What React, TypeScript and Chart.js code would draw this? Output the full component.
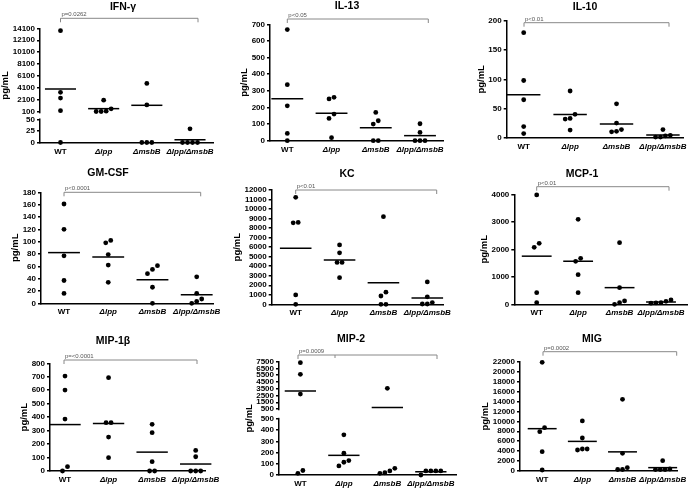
import React, { useEffect, useRef } from 'react';
import { Chart, registerables } from 'chart.js';
Chart.register(...registerables);

const FONT = '"Liberation Sans", Arial, Helvetica, sans-serif';

const groups = ['WT', 'Δlpp', 'ΔmsbB', 'Δlpp/ΔmsbB'];

// IFN-γ
const ifnWT = [13700, 3400, 2450, 350, 0];
const ifnLpp = [2100, 650, 250, 200, 200];
const ifnMsbB = [4900, 1300, 0, 0, 0];
const ifnDbl = [30, 0, 0, 0, 0];
const ifnLowTicks = [0, 25, 50];
const ifnUpTicks = [100, 2100, 4100, 6100, 8100, 10100, 12100, 14100];
// IL-13
const il13WT = [668, 337, 210, 44, 0];
const il13Lpp = [261, 251, 160, 134, 18];
const il13MsbB = [170, 120, 100, 0, 0];
const il13Dbl = [102, 50, 0, 0, 0];
// IL-10
const il10WT = [180, 98, 65, 19, 7];
const il10Lpp = [80, 40, 33, 32, 13];
const il10MsbB = [58, 25, 14, 11, 10];
const il10Dbl = [14, 4, 1, 1, 3];
// GM-CSF
const gmWT = [161, 120, 77, 37, 16];
const gmLpp = [102, 98, 79, 62, 34];
const gmMsbB = [61, 55, 48, 26, 0];
const gmDbl = [43, 16, 7, 3, 0];
// KC
const kcWT = [11230, 8600, 8550, 980, 0];
const kcLpp = [6230, 5400, 4400, 4400, 2800];
const kcMsbB = [9200, 1270, 870, 0, 0];
const kcDbl = [2350, 780, 180, 30, 30];
// MCP-1
const mcpWT = [3976, 2218, 2073, 424, 60];
const mcpLpp = [3090, 1673, 1564, 1079, 424];
const mcpMsbB = [2242, 606, 121, 60, 0];
const mcpDbl = [158, 110, 60, 50, 40];
// MIP-1β
const mip1WT = [705, 601, 386, 32, 0];
const mip1Lpp = [693, 359, 359, 252, 99];
const mip1MsbB = [347, 285, 69, 0, 0];
const mip1Dbl = [153, 106, 0, 0, 0];
// MIP-2
const mip2WT = [7350, 5630, 2720, 40, 15];
const mip2Lpp = [359, 195, 129, 114, 81];
const mip2MsbB = [3560, 60, 36, 20, 15];
const mip2Dbl = [36, 36, 36, 36, 0];
const mip2LowTicks = [0, 100, 200, 300, 400, 500];
const mip2UpTicks = [500, 1500, 2500, 3500, 4500, 5500, 6500, 7500];
// MIG
const migWT = [21870, 8720, 7920, 3890, 200];
const migLpp = [10070, 6640, 4430, 4230, 4430];
const migMsbB = [14430, 3560, 670, 300, 300];
const migDbl = [2080, 400, 300, 300, 300];

type Brk = { low: number[]; up: number[]; lowFrac: number; gapFrac: number };
type Panel = {
  title: string;
  pText: string;
  series: number[][];
  yMax?: number;
  yStep?: number;
  brk?: Brk;
  box: number[];
  plot: number[];
  cats: number[];
  titlePos: number[];
  bracket: number[];
};

const panels: Panel[] = [
  { title: 'IFN-γ', pText: 'p=0.0262', series: [ifnWT, ifnLpp, ifnMsbB, ifnDbl],
    brk: { low: ifnLowTicks, up: ifnUpTicks, lowFrac: 0.2, gapFrac: 0.066 },
    box: [0, 0, 230, 160], plot: [40, 28.3, 213, 142.5], cats: [60.5, 190], titlePos: [123, 7.5], bracket: [60.5, 198, 18.3] },
  { title: 'IL-13', pText: 'p<0.05', series: [il13WT, il13Lpp, il13MsbB, il13Dbl], yMax: 700, yStep: 100,
    box: [230, 0, 230, 160], plot: [270, 24.3, 443, 140.7], cats: [287.3, 420], titlePos: [347, 6.5], bracket: [287.3, 428.3, 19] },
  { title: 'IL-10', pText: 'p<0.01', series: [il10WT, il10Lpp, il10MsbB, il10Dbl], yMax: 200, yStep: 50,
    box: [460, 0, 231, 160], plot: [506.7, 21, 687, 137.7], cats: [524, 665.7], titlePos: [585, 7.5], bracket: [524, 669, 22.7] },
  { title: 'GM-CSF', pText: 'p<0.0001', series: [gmWT, gmLpp, gmMsbB, gmDbl], yMax: 180, yStep: 20,
    box: [0, 160, 230, 165], plot: [41, 192.3, 213, 303.3], cats: [64, 196.7], titlePos: [108, 173], bracket: [64, 200.7, 192.3] },
  { title: 'KC', pText: 'p<0.01', series: [kcWT, kcLpp, kcMsbB, kcDbl], yMax: 12000, yStep: 1000,
    box: [230, 160, 230, 165], plot: [271.7, 190, 443, 304.3], cats: [295.7, 427.3], titlePos: [347, 174], bracket: [295.7, 436.7, 190] },
  { title: 'MCP-1', pText: 'p<0.01', series: [mcpWT, mcpLpp, mcpMsbB, mcpDbl], yMax: 4000, yStep: 1000,
    box: [460, 160, 231, 165], plot: [514.3, 194.3, 687, 304.3], cats: [536.7, 661], titlePos: [582, 174], bracket: [536.7, 669, 186.7] },
  { title: 'MIP-1β', pText: 'p=<0.0001', series: [mip1WT, mip1Lpp, mip1MsbB, mip1Dbl], yMax: 800, yStep: 100,
    box: [0, 325, 230, 166], plot: [50, 363.3, 205, 471], cats: [65, 195.7], titlePos: [113, 341], bracket: [64, 197, 360] },
  { title: 'MIP-2', pText: 'p=0.0009', series: [mip2WT, mip2Lpp, mip2MsbB, mip2Dbl],
    brk: { low: mip2LowTicks, up: mip2UpTicks, lowFrac: 0.494, gapFrac: 0.088 },
    box: [230, 325, 230, 166], plot: [279, 361.7, 457, 475], cats: [300.5, 431.7], titlePos: [351, 339], bracket: [298, 437, 355, 335] },
  { title: 'MIG', pText: 'p=0.0002', series: [migWT, migLpp, migMsbB, migDbl], yMax: 22000, yStep: 2000,
    box: [460, 325, 231, 166], plot: [520, 361.7, 683, 471], cats: [543, 668], titlePos: [592, 339], bracket: [543, 676.7, 351.7] },
];

function frac(p: Panel, v: number): number {
  if (!p.brk) return v / (p.yMax as number);
  const { low, up, lowFrac, gapFrac } = p.brk;
  const lowMax = low[low.length - 1];
  const upMin = up[0];
  const upMax = up[up.length - 1];
  if (v <= lowMax) return (v / lowMax) * lowFrac;
  if (v < upMin) return lowFrac + ((v - lowMax) / (upMin - lowMax)) * gapFrac;
  return lowFrac + gapFrac + ((v - upMin) / (upMax - upMin)) * (1 - lowFrac - gapFrac);
}

const mean = (a: number[]) => a.reduce((s, v) => s + v, 0) / a.length;

// simple symmetric spreading of points that would overlap vertically
function jitter(vals: number[], toPx: (v: number) => number, sp: number): number[] {
  const SPACING = 5;
  const THRESH = 4.5;
  const idx = vals.map((_, i) => i).sort((a, b) => vals[a] - vals[b]);
  const offs = new Array(vals.length).fill(0);
  let cluster: number[] = [idx[0]];
  const flush = () => {
    const n = cluster.length;
    cluster.forEach((k, j) => { offs[k] = ((j - (n - 1) / 2) * SPACING) / sp; });
  };
  for (let t = 1; t < idx.length; t++) {
    const k = idx[t];
    const prev = cluster[cluster.length - 1];
    if (Math.abs(toPx(vals[k]) - toPx(vals[prev])) < THRESH) cluster.push(k);
    else { flush(); cluster = [k]; }
  }
  flush();
  return offs;
}

function PanelChart({ p }: { p: Panel }) {
  const ref = useRef<HTMLCanvasElement>(null);
  const [bx, by, bw, bh] = p.box;
  useEffect(() => {
    const [pl, pt, pr, pb] = p.plot;
    const sp = (p.cats[1] - p.cats[0]) / 3;
    const xMin = 1 - (p.cats[0] - pl) / sp;
    const xMax = 4 + (pr - p.cats[1]) / sp;
    const plotH = pb - pt;
    const yv = (v: number) => (p.brk ? frac(p, v) : v);
    const datasets: any[] = [];
    p.series.forEach((vals, g) => {
      const offs = jitter(vals, (v) => frac(p, v) * plotH, sp);
      datasets.push({
        type: 'scatter',
        data: vals.map((v, i) => ({ x: g + 1 + offs[i], y: yv(v) })),
        pointRadius: 2.4,
        pointBackgroundColor: '#000',
        pointBorderWidth: 0,
        clip: false,
      });
      const m = mean(vals);
      datasets.push({
        type: 'line',
        data: [{ x: g + 1 - 0.36, y: yv(m) }, { x: g + 1 + 0.36, y: yv(m) }],
        borderColor: '#000',
        borderWidth: 1.5,
        pointRadius: 0,
        clip: false,
      });
    });
    const brkLabels = p.brk ? [...p.brk.low, ...p.brk.up].map(String) : [];
    const deco = {
      id: 'deco',
      afterDraw(chart: any) {
        const ctx = chart.ctx;
        const a = chart.chartArea;
        const ys = chart.scales.y;
        ctx.save();
        if (p.brk) {
          const yl = ys.getPixelForValue(p.brk.lowFrac);
          const yu = ys.getPixelForValue(p.brk.lowFrac + p.brk.gapFrac);
          ctx.fillStyle = '#fff';
          ctx.fillRect(a.left - 1.6, yu + 1.2, 3.2, yl - yu - 2.4);
        }
        ctx.fillStyle = '#000';
        ctx.textAlign = 'center';
        ctx.textBaseline = 'middle';
        ctx.font = `bold 10.5px ${FONT}`;
        ctx.fillText(p.title, p.titlePos[0] - bx, p.titlePos[1] - by);
        const [x1, x2, yb, xm] = p.bracket;
        ctx.strokeStyle = '#888';
        ctx.lineWidth = 1;
        ctx.beginPath();
        ctx.moveTo(x1 - bx, yb - by + 4);
        ctx.lineTo(x1 - bx, yb - by);
        ctx.lineTo(x2 - bx, yb - by);
        ctx.lineTo(x2 - bx, yb - by + 4);
        if (xm) { ctx.moveTo(xm - bx, yb - by); ctx.lineTo(xm - bx, yb - by + 3); }
        ctx.stroke();
        ctx.fillStyle = '#555';
        ctx.font = `6px ${FONT}`;
        ctx.textAlign = 'left';
        ctx.textBaseline = 'alphabetic';
        ctx.fillText(p.pText, x1 - bx + 1, yb - by - 2);
        ctx.font = `bold 8px ${FONT}`;
        let maxW = 0;
        ys.ticks.forEach((t: any) => { maxW = Math.max(maxW, ctx.measureText(String(t.label)).width); });
        const tx = a.left - 5 - maxW - 7;
        ctx.fillStyle = '#000';
        ctx.font = `bold 9.5px ${FONT}`;
        ctx.translate(tx, (a.top + a.bottom) / 2);
        ctx.rotate(-Math.PI / 2);
        ctx.textAlign = 'center';
        ctx.textBaseline = 'middle';
        ctx.fillText('pg/mL', 0, 0);
        ctx.restore();
      },
    };
    const yScale: any = {
      type: 'linear',
      min: 0,
      max: p.brk ? 1 : p.yMax,
      ticks: {
        autoSkip: false,
        padding: 2,
        color: '#000',
        font: { family: FONT, size: 8, weight: 'bold' },
        callback: (val: any, i: number) => (p.brk ? brkLabels[i] : String(val)),
      },
      grid: { display: true, drawOnChartArea: false, drawTicks: true, tickLength: 3, color: '#000', lineWidth: 1.5 },
      border: { display: true, color: '#000', width: 1.5 },
      afterFit: (s: any) => { s.width = pl - bx; },
    };
    if (p.brk) {
      yScale.afterBuildTicks = (s: any) => {
        const b = p.brk!;
        s.ticks = [...b.low, ...b.up].map((v, i) => ({
          value: i === b.low.length ? b.lowFrac + b.gapFrac : frac(p, v),
        }));
      };
    } else {
      yScale.ticks.stepSize = p.yStep;
    }
    const chart = new Chart(ref.current as HTMLCanvasElement, {
      type: 'scatter',
      data: { datasets },
      options: {
        animation: false,
        responsive: false,
        devicePixelRatio: 1,
        events: [],
        layout: { padding: { left: 0, top: pt - by, right: bx + bw - pr, bottom: 0 } },
        plugins: { legend: { display: false }, tooltip: { enabled: false }, title: { display: false } },
        scales: {
          x: {
            type: 'linear',
            min: xMin,
            max: xMax,
            afterBuildTicks: (s: any) => { s.ticks = [1, 2, 3, 4].map((v) => ({ value: v })); },
            afterFit: (s: any) => { s.height = by + bh - pb; },
            ticks: {
              autoSkip: false,
              maxRotation: 0,
              padding: 4,
              color: '#000',
              font: (c: any) => ({ family: FONT, size: 8, weight: 'bold', style: c.index === 0 ? 'normal' : 'italic' }),
              callback: (val: any) => groups[Math.round(val) - 1] ?? '',
            },
            grid: { display: false, drawTicks: false, tickLength: 0 },
            border: { display: true, color: '#000', width: 1.5 },
          },
          y: yScale,
        },
      } as any,
      plugins: [deco],
    });
    return () => chart.destroy();
  }, []);
  return (
    <canvas
      ref={ref}
      width={bw}
      height={bh}
      style={{ position: 'absolute', left: bx, top: by, width: bw, height: bh }}
    />
  );
}

export default function App() {
  return (
    <div style={{ position: 'absolute', left: 0, top: 0, width: 691, height: 491, background: '#fff', overflow: 'hidden' }}>
      {panels.map((p) => (
        <PanelChart key={p.title} p={p} />
      ))}
    </div>
  );
}
